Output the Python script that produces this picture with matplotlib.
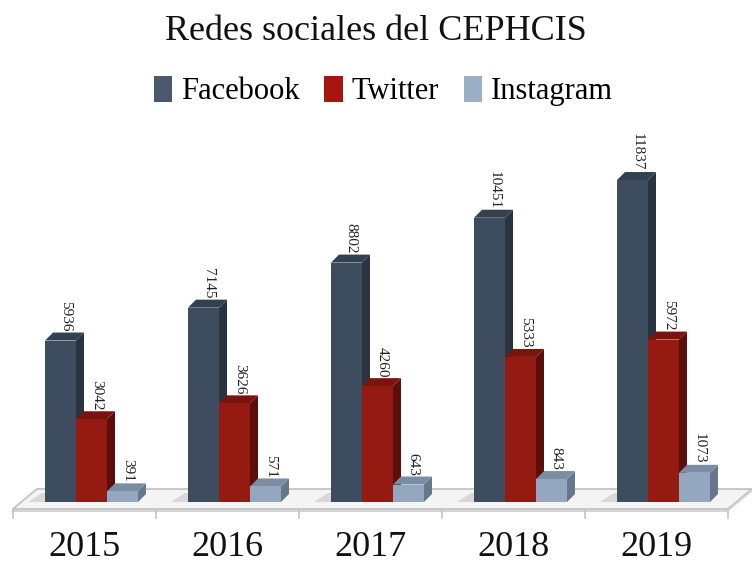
import numpy as np
import matplotlib
matplotlib.use("Agg")
import matplotlib.pyplot as plt
from matplotlib.patches import Polygon, Patch

# Data
years = ["2015", "2016", "2017", "2018", "2019"]
facebook = [5936, 7145, 8802, 10451, 11837]
twitter = [3042, 3626, 4260, 5333, 5972]
instagram = [391, 571, 643, 843, 1073]

series = [("Facebook", facebook), ("Twitter", twitter), ("Instagram", instagram)]
# front, side, top colours
colours = {
    "Facebook": ("#3e4c5f", "#2a3441", "#334050"),
    "Twitter": ("#941a12", "#5c0f0a", "#7a140e"),
    "Instagram": ("#94a7c0", "#66778b", "#7b8da3"),
}
legend_colours = {"Facebook": "#4b596c", "Twitter": "#a5160f", "Instagram": "#9aaec6"}

plt.rcParams['font.family'] = ['Liberation Serif', 'DejaVu Serif']

fig = plt.figure(figsize=(7.52, 5.64), dpi=100)
ax = fig.add_axes([0, 0, 1, 1])

px_x = 143.0          # pixels per category
px_y = 0.0272         # pixels per unit
ax.set_xlim(-91.5 / px_x, (752 - 91.5) / px_x)
ax.set_ylim((502 - 564) / px_y, 502 / px_y)
ax.axis("off")

w = 31 / px_x
dx = 8 / px_x
dy = 8 / px_y
x = np.arange(len(years))

# Floor
shift = -0.05
fy0 = -7 / px_y
fy1 = 13 / px_y
fdx = 24 / px_x
left, right = -0.5 + shift, len(years) - 0.5 + shift
ax.add_patch(Polygon([(left, fy0), (right, fy0), (right + fdx, fy1), (left + fdx, fy1)],
                     closed=True, facecolor="#f4f4f4", edgecolor="#c4c4c4", lw=1.3, zorder=0))
ax.plot([left, right], [fy0 - 2 / px_y, fy0 - 2 / px_y], color="#cccccc", lw=1.2, zorder=0)
ax.plot([right, right + fdx], [fy0 - 2 / px_y, fy1 - 2 / px_y], color="#d8d8d8", lw=1.0, zorder=0)
for b in np.arange(len(years) + 1) - 0.5 + shift:
    ax.plot([b, b], [fy0 - 1 / px_y, fy0 - 9 / px_y], color="#c4c4c4", lw=1.2, zorder=0)

# soft shadows to the left of each group
for i in x:
    xs = i - 1.5 * w
    ax.add_patch(Polygon([(xs - 0.12, 0), (xs, 0), (xs + 0.1, 9 / px_y), (xs - 0.02, 9 / px_y)],
                         closed=True, facecolor="#d8d8d8", edgecolor="none", zorder=1))

# Bars with fake depth
for j, (name, vals) in enumerate(series):
    front, side, top = colours[name]
    xc = x + (j - 1) * w
    for k, (xi, v) in enumerate(zip(xc, vals)):
        z = 2 + k * 10 + j * 3
        x0, x1 = xi - w / 2, xi + w / 2
        ax.add_patch(Polygon([(x1, 0), (x1 + dx, dy), (x1 + dx, v + dy), (x1, v)],
                             closed=True, facecolor=side, edgecolor="none", zorder=z))
        ax.add_patch(Polygon([(x0, v), (x1, v), (x1 + dx, v + dy), (x0 + dx, v + dy)],
                             closed=True, facecolor=top, edgecolor="none", zorder=z + 1))
        ax.bar(xi, v, width=w, color=front, zorder=z + 2, linewidth=0)
        ax.text(xi + dx * 0.6, v + dy + 40, str(v), rotation=-90, ha="center", va="bottom",
                fontsize=11, color="#222222", zorder=60)

# Year labels
for i, yr in enumerate(years):
    ax.text(i + shift, -46 / px_y, yr, ha="center", va="center", fontsize=26, color="#111111")

fig.text(0.5, 0.945, "Redes sociales del CEPHCIS", ha="center", va="center",
         fontsize=26, color="#111111")

handles = [Patch(facecolor=legend_colours[n], edgecolor="none", label=n) for n, _ in series]
fig.legend(handles=handles, loc="center", bbox_to_anchor=(0.51, 0.838), ncol=3, frameon=False,
           fontsize=22, handlelength=0.6, handleheight=0.9, handletextpad=0.3, columnspacing=0.8)

fig.savefig("out.png", dpi=100)
